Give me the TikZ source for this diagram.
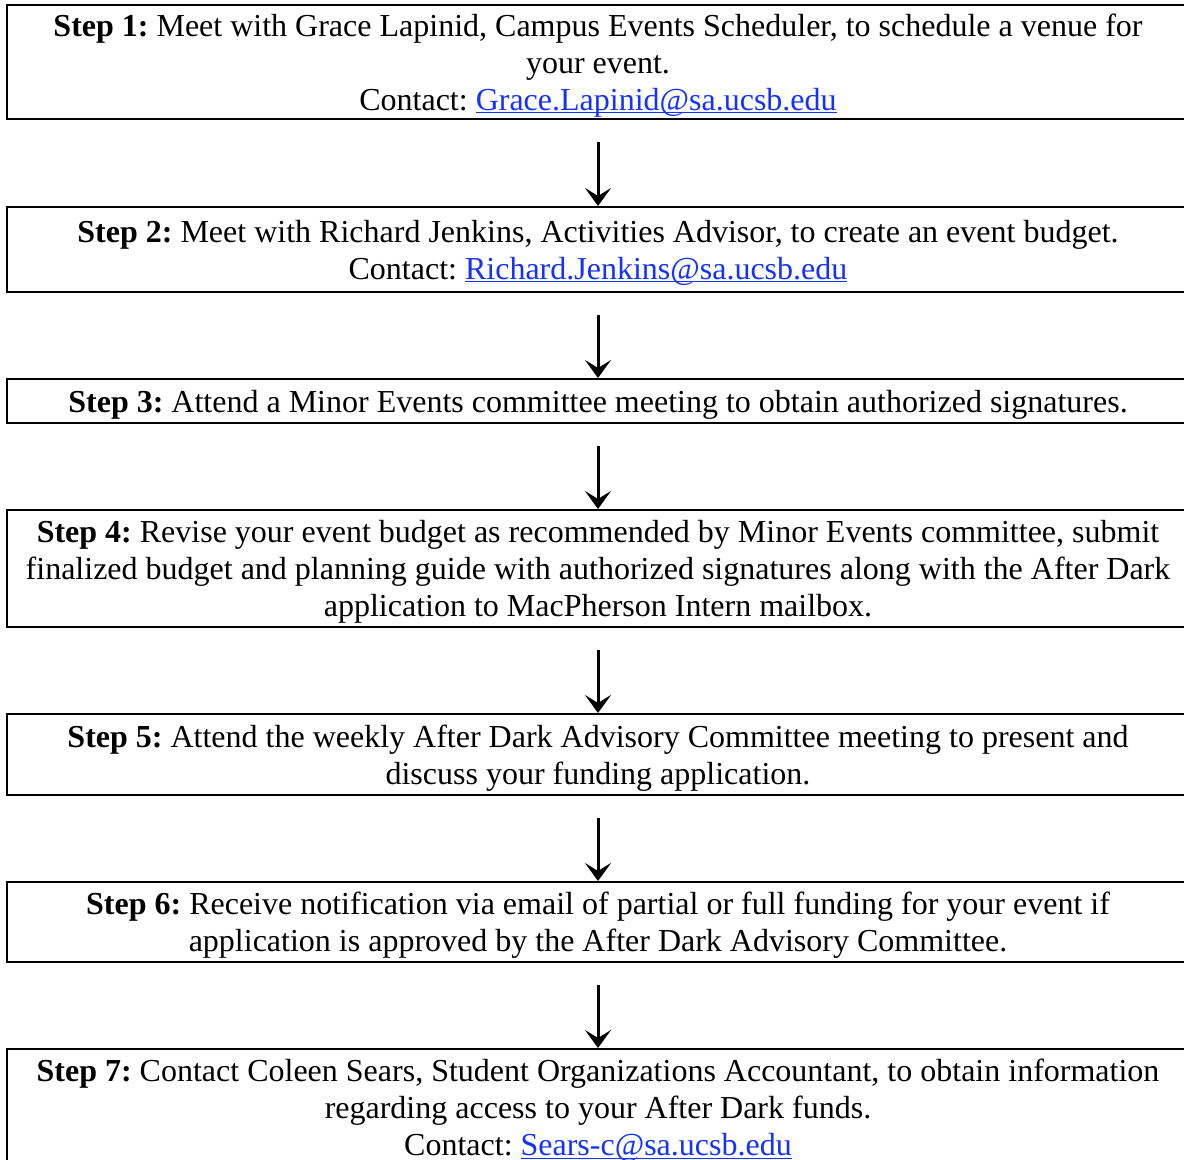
\documentclass[tikz,border=0pt]{standalone}
\usepackage{fontspec}
\setmainfont{Liberation Serif}
\usepackage{xcolor}
\usetikzlibrary{arrows.meta}
\definecolor{linkblue}{RGB}{20,50,255}
\newcommand{\maillink}[1]{{\color{linkblue}\setbox0\hbox{#1}\rlap{\rule[-1.6pt]{\wd0}{0.7pt}}\box0}}
\frenchspacing

\begin{document}
\begin{tikzpicture}[x=0.5pt,y=-0.5pt,
	stepbox/.style={draw, line width=1pt, minimum width=591pt, inner sep=0pt, align=center, anchor=north, text depth=0pt, font=\fontsize{16pt}{18.5pt}\selectfont},
	flowarrow/.style={-{Stealth[length=9pt,width=13pt,inset=4pt]}, line width=1.5pt, shorten <=11pt}]
	
	\useasboundingbox (0,0) rectangle (1184,1160);
	
	\node[stepbox, minimum height=57pt] (step1) at (598,4)
		{\textbf{Step 1:} Meet with Grace Lapinid, Campus Events Scheduler, to schedule a venue for\\ your event.\\ Contact: \maillink{Grace.Lapinid@sa.ucsb.edu}};
	\node[stepbox, minimum height=42.5pt] (step2) at (598,206)
		{\textbf{Step 2:} Meet with Richard Jenkins, Activities Advisor, to create an event budget.\\ Contact: \maillink{Richard.Jenkins@sa.ucsb.edu}};
	\node[stepbox, minimum height=22pt] (step3) at (598,378)
		{\textbf{Step 3:} Attend a Minor Events committee meeting to obtain authorized signatures.};
	\node[stepbox, minimum height=58.5pt] (step4) at (598,509)
		{\textbf{Step 4:} Revise your event budget as recommended by Minor Events committee, submit\\ finalized budget and planning guide with authorized signatures along with the After Dark\\ application to MacPherson Intern mailbox.};
	\node[stepbox, minimum height=40.5pt] (step5) at (598,713)
		{\textbf{Step 5:} Attend the weekly After Dark Advisory Committee meeting to present and\\ discuss your funding application.};
	\node[stepbox, minimum height=40pt] (step6) at (598,881)
		{\textbf{Step 6:} Receive notification via email of partial or full funding for your event if\\ application is approved by the After Dark Advisory Committee.};
	\node[stepbox, minimum height=58.5pt] (step7) at (598,1048)
		{\textbf{Step 7:} Contact Coleen Sears, Student Organizations Accountant, to obtain information\\ regarding access to your After Dark funds.\\ Contact: \maillink{Sears-c@sa.ucsb.edu}};
	
	\foreach \a/\b in {1/2,2/3,3/4,4/5,5/6,6/7}
	{
		\draw[flowarrow] (step\a.south) -- (step\b.north);
	}
\end{tikzpicture}
\end{document}
